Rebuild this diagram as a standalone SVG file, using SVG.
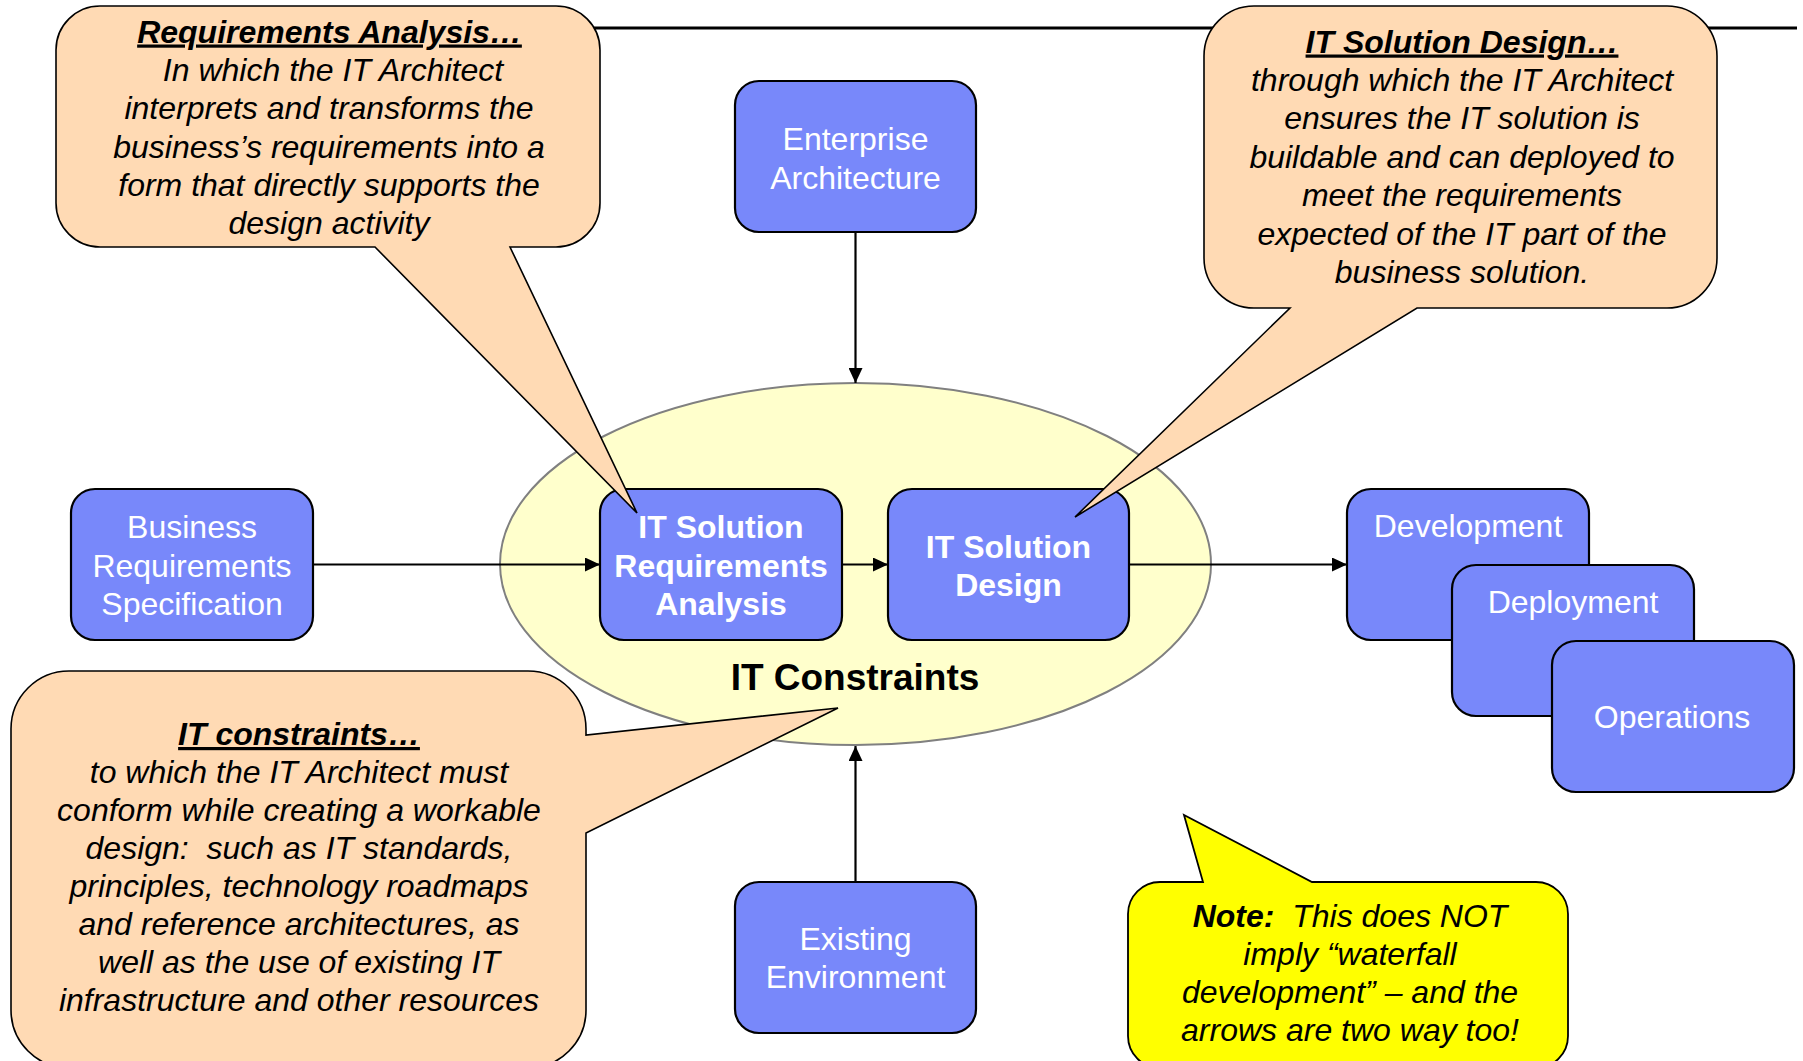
<svg xmlns="http://www.w3.org/2000/svg" width="1803" height="1061" viewBox="0 0 1803 1061">
<defs>
<marker id="ah" markerUnits="userSpaceOnUse" markerWidth="16" markerHeight="14" refX="15" refY="7" orient="auto">
<path d="M0,0 L15,7 L0,14 Z" fill="#000"/>
</marker>
<style>
.box{fill:#7888FA;stroke:#000;stroke-width:2.2}
.nt{font-family:"Liberation Sans",Arial,sans-serif;font-size:32px;fill:#fff;text-anchor:middle}
.bt{font-weight:bold}
.call{fill:#FFDAB4;stroke:#000;stroke-width:1.6}
.note{fill:#FFFF00;stroke:#000;stroke-width:1.8}
.ct{font-family:"Liberation Sans",Arial,sans-serif;font-size:32px;font-style:italic;fill:#000;text-anchor:middle}
.ttl{font-weight:bold;text-decoration:underline}
.con{stroke:#000;stroke-width:2.2;fill:none;marker-end:url(#ah)}
</style>
</defs>
<rect width="1803" height="1061" fill="#fff"/>
<line x1="560" y1="28" x2="1797" y2="28" stroke="#000" stroke-width="3"/>
<g id="it-constraints">
<ellipse cx="855.5" cy="564" rx="355.5" ry="181" fill="#FFFFCC" stroke="#808080" stroke-width="2"/>
<text x="855" y="689.5" font-family="'Liberation Sans',Arial,sans-serif" font-size="37" font-weight="bold" text-anchor="middle" fill="#000">IT Constraints</text>
</g>
<g id="connectors">
<line class="con" x1="855.5" y1="232" x2="855.5" y2="383"/>
<line class="con" x1="855.5" y1="882" x2="855.5" y2="746"/>
<line class="con" x1="313" y1="564.5" x2="600" y2="564.5"/>
<line class="con" x1="842" y1="564.5" x2="888" y2="564.5"/>
<line class="con" x1="1129" y1="564.5" x2="1347" y2="564.5"/>
</g>
<g id="enterprise-architecture">
<rect class="box" x="735" y="81" width="241" height="151" rx="24"/>
<text class="nt" x="855.5" y="149.5">Enterprise</text>
<text class="nt" x="855.5" y="188.5">Architecture</text>
</g>
<g id="business-requirements">
<rect class="box" x="71" y="489" width="242" height="151" rx="24"/>
<text class="nt" x="192" y="537.5">Business</text>
<text class="nt" x="192" y="576.5">Requirements</text>
<text class="nt" x="192" y="614.5">Specification</text>
</g>
<g id="it-solution-requirements-analysis">
<rect class="box" x="600" y="489" width="242" height="151" rx="24"/>
<text class="nt bt" x="721" y="538">IT Solution</text>
<text class="nt bt" x="721" y="576.5">Requirements</text>
<text class="nt bt" x="721" y="615">Analysis</text>
</g>
<g id="it-solution-design">
<rect class="box" x="888" y="489" width="241" height="151" rx="24"/>
<text class="nt bt" x="1008.5" y="557.5">IT Solution</text>
<text class="nt bt" x="1008.5" y="595.5">Design</text>
</g>
<g id="development">
<rect class="box" x="1347" y="489" width="242" height="151" rx="24"/>
<text class="nt" x="1468" y="537">Development</text>
</g>
<g id="deployment">
<rect class="box" x="1452" y="565" width="242" height="151" rx="24"/>
<text class="nt" x="1573" y="613">Deployment</text>
</g>
<g id="operations">
<rect class="box" x="1552" y="641" width="242" height="151" rx="24"/>
<text class="nt" x="1672" y="727.5">Operations</text>
</g>
<g id="existing-environment">
<rect class="box" x="735" y="882" width="241" height="151" rx="24"/>
<text class="nt" x="855.5" y="950">Existing</text>
<text class="nt" x="855.5" y="988">Environment</text>
</g>
<g id="callout-requirements-analysis">
<path class="call" d="M100,6 H556 A44,44 0 0 1 600,50 V203 A44,44 0 0 1 556,247 H510 L637,513 L375,247 H100 A44,44 0 0 1 56,203 V50 A44,44 0 0 1 100,6 Z"/>
<text class="ct ttl" x="329.5" y="42.5">Requirements Analysis…</text>
<text class="ct" x="333" y="81">In which the IT Architect</text>
<text class="ct" x="329" y="119.3">interprets and transforms the</text>
<text class="ct" x="329" y="157.6">business’s requirements into a</text>
<text class="ct" x="329" y="195.9">form that directly supports the</text>
<text class="ct" x="329" y="234.2">design activity</text>
</g>
<g id="callout-it-solution-design">
<path class="call" d="M1254,6 H1667 A50,50 0 0 1 1717,56 V258 A50,50 0 0 1 1667,308 H1417 L1075,517 L1290,308 H1254 A50,50 0 0 1 1204,258 V56 A50,50 0 0 1 1254,6 Z"/>
<text class="ct ttl" x="1462" y="52.5">IT Solution Design…</text>
<text class="ct" x="1462" y="91">through which the IT Architect</text>
<text class="ct" x="1462" y="129.4">ensures the IT solution is</text>
<text class="ct" x="1462" y="167.8">buildable and can deployed to</text>
<text class="ct" x="1462" y="206.2">meet the requirements</text>
<text class="ct" x="1462" y="244.6">expected of the IT part of the</text>
<text class="ct" x="1462" y="283">business solution.</text>
</g>
<g id="callout-it-constraints">
<path class="call" d="M69,671 H528 A58,58 0 0 1 586,729 V735 L838,708 L586,833 V1010 A58,58 0 0 1 528,1068 H69 A58,58 0 0 1 11,1010 V729 A58,58 0 0 1 69,671 Z"/>
<text class="ct ttl" x="299" y="745">IT constraints…</text>
<text class="ct" x="299" y="783">to which the IT Architect must</text>
<text class="ct" x="299" y="821">conform while creating a workable</text>
<text class="ct" x="299" y="859">design:&#160; such as IT standards,</text>
<text class="ct" x="299" y="897">principles, technology roadmaps</text>
<text class="ct" x="299" y="935.2">and reference architectures, as</text>
<text class="ct" x="299" y="973.4">well as the use of existing IT</text>
<text class="ct" x="299" y="1011.4">infrastructure and other resources</text>
</g>
<g id="note">
<path class="note" d="M1160,882 H1203 L1184,815 L1312,882 H1536 A32,32 0 0 1 1568,914 V1036 A32,32 0 0 1 1536,1068 H1160 A32,32 0 0 1 1128,1036 V914 A32,32 0 0 1 1160,882 Z"/>
<text class="ct" x="1350" y="926.5"><tspan font-weight="bold">Note:</tspan>&#160; This does NOT</text>
<text class="ct" x="1350" y="964.5">imply “waterfall</text>
<text class="ct" x="1350" y="1002.5">development” – and the</text>
<text class="ct" x="1350" y="1040.5">arrows are two way too!</text>
</g>
</svg>
